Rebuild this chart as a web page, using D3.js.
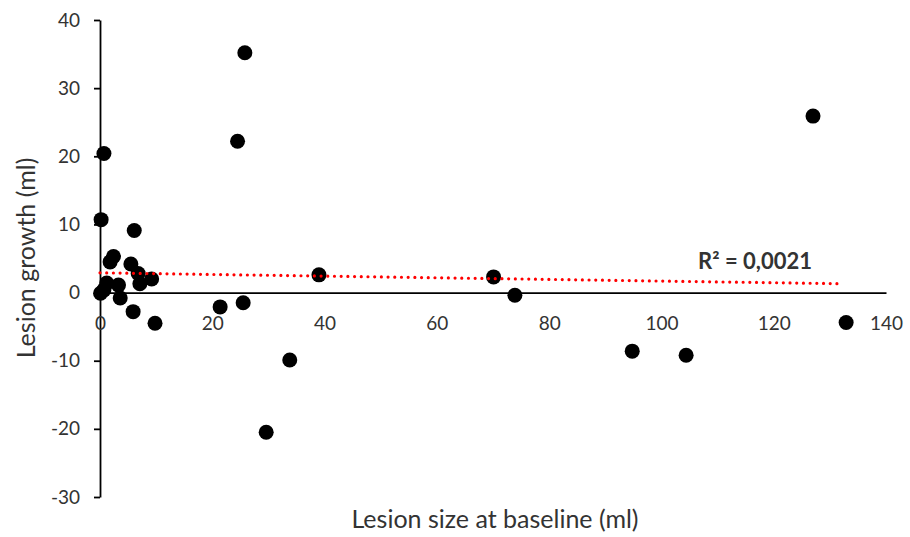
<!DOCTYPE html>
<html>
<head>
<meta charset="utf-8">
<script src="https://cdn.jsdelivr.net/npm/d3@7"></script>
<style>
  body { margin: 0; background: #fff; }
  text { font-family: Lato, "Open Sans", sans-serif; fill: #333; }
</style>
</head>
<body>
<div id="chart"></div>
<script>
    // data
    var baselineSize = [0.1, 0.2, 0.7, 25.8, 24.5, 127.0, 132.9, 94.8, 104.4, 70.1,
        73.9, 39.0, 33.8, 29.6, 25.5, 21.4, 9.8, 5.9, 6.1, 5.5,
        6.8, 7.1, 9.2, 1.8, 2.4, 1.2, 3.3, 3.6, 0.7];
    var lesionGrowth = [-0.1, 10.7, 20.4, 35.2, 22.2, 25.9, -4.4, -8.6, -9.2, 2.3,
        -0.4, 2.6, -9.9, -20.5, -1.5, -2.1, -4.5, -2.8, 9.1, 4.2,
        2.8, 1.3, 2.0, 4.5, 5.3, 1.4, 1.1, -0.8, 0.4];

    // linear trendline ends, as drawn
    var trendX = [0, 132];
    var trendY = [2.9, 1.3];

    var xTicks = [0, 20, 40, 60, 80, 100, 120, 140];
    var yTicks = [-30, -20, -10, 0, 10, 20, 30, 40];

    var svgWidth = 910;
    var svgHeight = 537;

    var svg = d3.select("#chart")
        .append("svg")
        .attr("width", svgWidth)
        .attr("height", svgHeight);

    var xScale = d3.scaleLinear()
        .domain([0, 140])
        .range([100, 886]);

    var yScale = d3.scaleLinear()
        .domain([-30, 40])
        .range([497, 20]);

    // y axis
    var leftAxis = d3.axisLeft(yScale)
        .tickValues(yTicks)
        .tickFormat(d => String(d))
        .tickSize(6)
        .tickSizeOuter(0)
        .tickPadding(14);

    var yAxis = svg.append("g")
        .attr("transform", `translate(${xScale(0)}, 0)`)
        .call(leftAxis);

    // x axis crosses at y = 0, no tick marks
    var bottomAxis = d3.axisBottom(xScale)
        .tickValues(xTicks)
        .tickFormat(d => String(d))
        .tickSize(0)
        .tickSizeOuter(0)
        .tickPadding(24);

    var xAxis = svg.append("g")
        .attr("transform", `translate(0, ${yScale(0)})`)
        .call(bottomAxis);

    [xAxis, yAxis].forEach(function(ax) {
        ax.select(".domain").attr("stroke", "#000").attr("stroke-width", 1.8);
        ax.selectAll(".tick line").attr("stroke", "#000").attr("stroke-width", 1.8);
        ax.selectAll("text")
            .attr("font-size", 19)
            .attr("font-family", "Lato, sans-serif")
            .attr("fill", "#333");
    });

    // points
    var points = baselineSize.map((d, i) => ({ x: d, y: lesionGrowth[i] }));

    svg.append("g").selectAll("circle")
        .data(points)
        .enter()
        .append("circle")
        .attr("cx", d => xScale(d.x))
        .attr("cy", d => yScale(d.y))
        .attr("r", 7.5)
        .attr("fill", "#000");

    // dotted trendline
    var trend = trendX.map((d, i) => ({ x: d, y: trendY[i] }));

    svg.append("path")
        .datum(trend)
        .attr("d", d3.line().x(d => xScale(d.x)).y(d => yScale(d.y)))
        .attr("fill", "none")
        .attr("stroke", "#ff0000")
        .attr("stroke-width", 3.2)
        .attr("stroke-linecap", "round")
        .attr("stroke-dasharray", "0, 6.7");

    svg.append("text")
        .attr("x", 755)
        .attr("y", 269)
        .attr("text-anchor", "middle")
        .attr("font-size", 22)
        .attr("font-weight", "bold")
        .text("R² = 0,0021");

    // axis titles
    svg.append("text")
        .attr("x", 495)
        .attr("y", 528)
        .attr("text-anchor", "middle")
        .attr("font-size", 25)
        .text("Lesion size at baseline (ml)");

    svg.append("text")
        .attr("transform", "rotate(-90)")
        .attr("x", -258)
        .attr("y", 35)
        .attr("text-anchor", "middle")
        .attr("font-size", 25)
        .text("Lesion growth (ml)");
</script>
</body>
</html>
